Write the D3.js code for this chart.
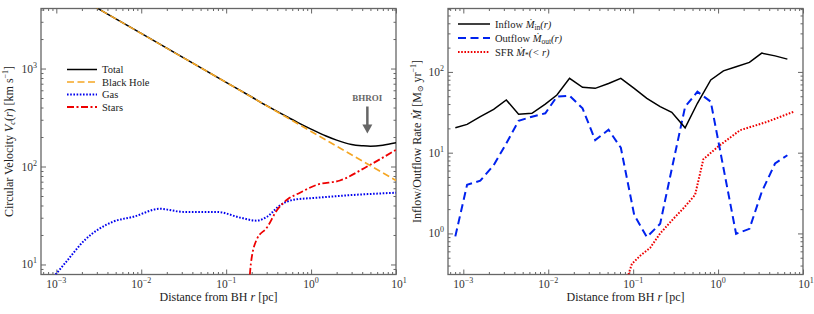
<!DOCTYPE html>
<html>
<head>
<meta charset="utf-8">
<script src="https://cdn.jsdelivr.net/npm/d3@7"></script>
<style>
  body { margin: 0; background: #fff; }
  svg { font-family: "Liberation Serif", "DejaVu Serif", serif; }
</style>
</head>
<body>
<div id="chart"></div>
<script>
// Left panel: circular velocity components
var bhR = [0.0006, 0.001, 0.01, 0.1, 1, 10];
var bhV = [9300, 7210, 2280, 721, 228, 72];

var totalR = [0.0006, 0.001, 0.01, 0.1, 0.2, 0.3, 0.5, 0.7, 1, 1.5, 2, 3, 4, 5, 7, 10];
var totalV = [9300, 7210, 2280, 722, 512, 418, 328, 281, 241, 205, 186, 168, 163, 161, 165, 175];

var gasR = [0.00098, 0.00123, 0.0022, 0.0047, 0.0081, 0.0166, 0.0316, 0.078, 0.148, 0.229, 0.302, 0.437, 0.617, 1.17, 2.88, 10];
var gasV = [7.9, 10, 18, 27.4, 30.7, 37, 34.4, 34.4, 30, 28, 30.7, 40.5, 45.7, 48, 51, 54];

var starR = [0.19, 0.195, 0.229, 0.302, 0.398, 0.525, 0.741, 1.17, 2.19, 4.57, 10];
var starV = [7.8, 10, 18, 23.8, 36, 46, 54, 65, 72, 100, 148];

var bhroiR = 4.6;

// Right panel: inflow / outflow / SFR
var binR = [0.000805, 0.001107, 0.001585, 0.002275, 0.003206, 0.004477, 0.00643, 0.00923,
  0.01265, 0.01782, 0.02535, 0.03573, 0.0513, 0.0716, 0.1028, 0.1449, 0.208, 0.285,
  0.409, 0.571, 0.820, 1.156, 1.629, 2.339, 3.266, 4.688, 6.546];
var inflow = [20.3, 22.4, 27.9, 34.4, 44.9, 30, 30.7, 39.9, 51.8, 83.4, 64.5, 62.6, 72, 83.4,
  62.6, 47, 37.1, 31.6, 20.3, 40.9, 79.6, 103, 116, 131, 171, 158, 144];
var outflow = [0.92, 4.0, 4.5, 7.0, 13, 24.8, 27.9, 30.7, 49.5, 50.8, 35.4, 14.3, 19.2, 11.5,
  1.7, 0.9, 1.32, 6.3, 37, 56.9, 42.8, 6.5, 0.99, 1.14, 3.26, 7.35, 9.3];

var sfrR = [0.088, 0.0966, 0.121, 0.158, 0.208, 0.298, 0.391, 0.536, 0.671, 1.01, 1.82, 3.74, 7.69];
var sfr = [0.31, 0.42, 0.53, 0.66, 1.0, 1.52, 2.05, 3.0, 8.3, 12, 19, 24, 32];

var xDecades = [-3, -2, -1, 0, 1];

var svg = d3.select("#chart").append("svg")
  .attr("width", 814)
  .attr("height", 314);

var frameColor = "#666";
var MDOT = "M\u0307";

function logMinors(lo, hi) {
  var out = [];
  for (var e = Math.floor(Math.log10(lo)); e <= Math.ceil(Math.log10(hi)); e++) {
    for (var k = 2; k <= 9; k++) {
      var v = k * Math.pow(10, e);
      if (v > lo && v < hi) out.push(v);
    }
  }
  return out;
}

function powLabel(sel, exp, anchor) {
  sel.attr("text-anchor", anchor);
  sel.append("tspan").text("10");
  sel.append("tspan").attr("dy", -5).attr("font-size", "8px").text(exp < 0 ? "\u2212" + (-exp) : exp);
}

function makePanel(opts) {
  var w = opts.right - opts.left;
  var h = opts.bottom - opts.top;
  var g = svg.append("g").attr("transform", `translate(${opts.left}, ${opts.top})`);

  var x = d3.scaleLog().domain(opts.xDomain).range([0, w]);
  var y = d3.scaleLog().domain(opts.yDomain).range([h, 0]);

  var xMaj = xDecades.map(d => Math.pow(10, d));
  var yMaj = opts.yDecades.map(d => Math.pow(10, d));
  var xMin = logMinors(opts.xDomain[0], opts.xDomain[1]);
  var yMin = logMinors(opts.yDomain[0], opts.yDomain[1]);

  function ticks(axis, vals, size, tr) {
    var a = g.append("g").attr("transform", tr)
      .call(axis.tickValues(vals).tickSize(size).tickFormat(""));
    a.select(".domain").remove();
    a.selectAll("line").attr("stroke", frameColor).attr("stroke-width", 1);
  }
  ticks(d3.axisBottom(x), xMaj, -5, `translate(0, ${h})`);
  ticks(d3.axisBottom(x), xMin, -2.5, `translate(0, ${h})`);
  ticks(d3.axisTop(x), xMaj, -5, "translate(0, 0)");
  ticks(d3.axisTop(x), xMin, -2.5, "translate(0, 0)");
  ticks(d3.axisLeft(y), yMaj, -5, "translate(0, 0)");
  ticks(d3.axisLeft(y), yMin, -2.5, "translate(0, 0)");
  ticks(d3.axisRight(y), yMaj, -5, `translate(${w}, 0)`);
  ticks(d3.axisRight(y), yMin, -2.5, `translate(${w}, 0)`);

  g.append("rect")
    .attr("width", w).attr("height", h)
    .attr("fill", "none").attr("stroke", frameColor).attr("stroke-width", 1.3);

  xDecades.forEach(function(d) {
    var t = g.append("text")
      .attr("x", x(Math.pow(10, d)) + (d === 1 ? 3 : 0))
      .attr("y", h + 13)
      .attr("font-size", "11.5px")
      .attr("fill", "#333");
    powLabel(t, d, "middle");
  });
  opts.yDecades.forEach(function(d) {
    var t = g.append("text")
      .attr("x", -4)
      .attr("y", y(Math.pow(10, d)) + 4)
      .attr("font-size", "11.5px")
      .attr("fill", "#333");
    powLabel(t, d, "end");
  });

  var xt = g.append("text")
    .attr("x", w / 2).attr("y", h + 26)
    .attr("text-anchor", "middle")
    .attr("font-size", "12px")
    .attr("fill", "#222");
  xt.append("tspan").text("Distance from BH ");
  xt.append("tspan").attr("font-style", "italic").text("r");
  xt.append("tspan").text(" [pc]");

  var clipId = "clip" + opts.left;
  g.append("clipPath").attr("id", clipId)
    .append("rect").attr("width", w).attr("height", h);
  var plot = g.append("g").attr("clip-path", `url(#${clipId})`);

  return { g: g, plot: plot, x: x, y: y, w: w, h: h };
}

function drawLine(p, rs, vs, style, curve) {
  var line = d3.line()
    .x((d, i) => p.x(rs[i]))
    .y(d => p.y(d))
    .curve(curve || d3.curveLinear);
  p.plot.append("path")
    .datum(vs)
    .attr("d", line)
    .attr("fill", "none")
    .attr("stroke", style.color)
    .attr("stroke-width", style.width)
    .attr("stroke-dasharray", style.dash || null);
}

// ---- left panel ----
var left = makePanel({
  left: 41, right: 396, top: 8.5, bottom: 274.5,
  xDomain: [6.6e-4, 10], yDomain: [7.9, 4100], yDecades: [1, 2, 3]
});

var sTotal = { color: "#000", width: 1.5 };
var sBH = { color: "#f5a623", width: 1.6, dash: "7,3.5" };
var sGas = { color: "#0000ee", width: 2, dash: "1.6,1.6" };
var sStar = { color: "#ee0000", width: 1.8, dash: "7,2.5,2,2.5" };

drawLine(left, gasR, gasV, sGas, d3.curveMonotoneX);
drawLine(left, starR, starV, sStar, d3.curveMonotoneX);
drawLine(left, totalR, totalV, sTotal, d3.curveMonotoneX);
drawLine(left, bhR, bhV, sBH);

var ly = left.g.append("text")
  .attr("transform", `translate(${-28}, ${left.h / 2}) rotate(-90)`)
  .attr("text-anchor", "middle")
  .attr("font-size", "12px")
  .attr("fill", "#222");
ly.append("tspan").text("Circular Velocity ");
ly.append("tspan").attr("font-style", "italic").text("V");
ly.append("tspan").attr("font-style", "italic").attr("font-size", "8px").attr("dy", 2).text("c");
ly.append("tspan").attr("dy", -2).text("(");
ly.append("tspan").attr("font-style", "italic").text("r");
ly.append("tspan").text(") [km s");
ly.append("tspan").attr("font-size", "8px").attr("dy", -5).text("\u22121");
ly.append("tspan").attr("dy", 5).text("]");

var leftLegend = [
  { label: "Total", style: sTotal },
  { label: "Black Hole", style: sBH },
  { label: "Gas", style: sGas },
  { label: "Stars", style: sStar }
];
leftLegend.forEach(function(d, i) {
  var yy = 61 + i * 12.5;
  left.g.append("line")
    .attr("x1", 26).attr("x2", 56).attr("y1", yy).attr("y2", yy)
    .attr("stroke", d.style.color).attr("stroke-width", d.style.width)
    .attr("stroke-dasharray", d.style.dash || null);
  left.g.append("text")
    .attr("x", 61).attr("y", yy + 3.5)
    .attr("font-size", "10.5px").attr("fill", "#222")
    .text(d.label);
});

// BHROI marker
var bx = left.x(bhroiR);
left.g.append("text")
  .attr("x", bx).attr("y", 92)
  .attr("text-anchor", "middle")
  .attr("font-size", "9px").attr("font-weight", "bold")
  .attr("fill", "#666")
  .text("BHROI");
left.g.append("line")
  .attr("x1", bx).attr("x2", bx).attr("y1", 98).attr("y2", 117)
  .attr("stroke", "#666").attr("stroke-width", 2.5);
left.g.append("path")
  .attr("d", `M${bx - 5},116 L${bx + 5},116 L${bx},125 Z`)
  .attr("fill", "#666");

// ---- right panel ----
var right = makePanel({
  left: 448, right: 803, top: 8.5, bottom: 274.5,
  xDomain: [6.6e-4, 10], yDomain: [0.31, 610], yDecades: [0, 1, 2]
});

var sIn = { color: "#000", width: 1.5 };
var sOut = { color: "#0022ee", width: 2, dash: "8,4.5" };
var sSfr = { color: "#ee0000", width: 2, dash: "1.6,1.6" };

drawLine(right, sfrR, sfr, sSfr);
drawLine(right, binR, outflow, sOut);
drawLine(right, binR, inflow, sIn);

var ry = right.g.append("text")
  .attr("transform", `translate(${-27}, ${right.h / 2}) rotate(-90)`)
  .attr("text-anchor", "middle")
  .attr("font-size", "12px")
  .attr("fill", "#222");
ry.append("tspan").text("Inflow/Outflow Rate ");
ry.append("tspan").attr("font-style", "italic").text(MDOT);
ry.append("tspan").text(" [M");
ry.append("tspan").attr("font-size", "8px").attr("dy", 2).text("\u2299");
ry.append("tspan").attr("dy", -2).text(" yr");
ry.append("tspan").attr("font-size", "8px").attr("dy", -5).text("\u22121");
ry.append("tspan").attr("dy", 5).text("]");

var rightLegend = [
  { pre: "Inflow ", sub: "in", post: "(r)", style: sIn },
  { pre: "Outflow ", sub: "out", post: "(r)", style: sOut },
  { pre: "SFR ", sub: "*", post: "(< r)", style: sSfr }
];
rightLegend.forEach(function(d, i) {
  var yy = 15.5 + i * 14;
  right.g.append("line")
    .attr("x1", 10).attr("x2", 42).attr("y1", yy).attr("y2", yy)
    .attr("stroke", d.style.color).attr("stroke-width", d.style.width)
    .attr("stroke-dasharray", d.style.dash || null);
  var t = right.g.append("text")
    .attr("x", 47).attr("y", yy + 3.5)
    .attr("font-size", "10.5px").attr("fill", "#222");
  t.append("tspan").text(d.pre);
  t.append("tspan").attr("font-style", "italic").text(MDOT);
  t.append("tspan").attr("font-size", "7.5px").attr("dy", 2.5).text(d.sub);
  t.append("tspan").attr("dy", -2.5).attr("font-style", "italic").text(d.post);
});
</script>
</body>
</html>
